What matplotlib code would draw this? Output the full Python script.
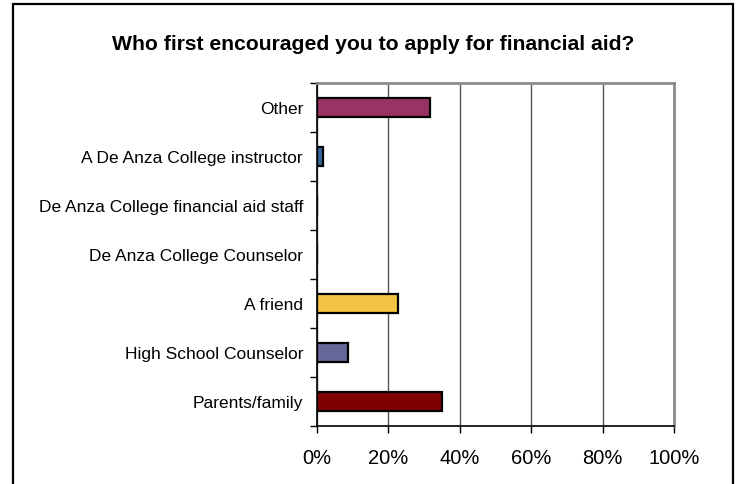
import numpy as np
import matplotlib
matplotlib.use("Agg")
import matplotlib.pyplot as plt
from matplotlib.patches import Rectangle

plt.rcParams['font.family'] = ['Liberation Sans', 'DejaVu Sans']

# Survey answers, listed bottom to top as they appear on the chart
categories = [
    "Parents/family",
    "High School Counselor",
    "A friend",
    "De Anza College Counselor",
    "De Anza College financial aid staff",
    "A De Anza College instructor",
    "Other",
]
percent = [35.1, 8.8, 22.7, 0.0, 0.0, 1.8, 31.6]
bar_colors = ["#800000", "#666699", "#F5C343", "#336699", "#336699", "#336699", "#993366"]
x_ticks = [0, 20, 40, 60, 80, 100]
x_tick_labels = ["0%", "20%", "40%", "60%", "80%", "100%"]
title = "Who first encouraged you to apply for financial aid?"

W, H = 737, 485
fig = plt.figure(figsize=(W / 100, H / 100), dpi=100)
fig.patch.set_facecolor("white")

# outer frame around the chart (bottom edge runs off the image)
fig.patches.append(Rectangle((13 / W, -0.05), (733 - 13) / W, 1.05 - 5 / H,
                             transform=fig.transFigure, fill=False,
                             edgecolor="black", linewidth=1.6))

ax = fig.add_axes([317 / W, 1 - 427 / H, (674 - 317) / W, (427 - 84) / H])
pos = np.arange(len(categories))
ax.barh(pos, percent, height=0.4, color=bar_colors, edgecolor="black",
        linewidth=1.6, zorder=3)

ax.set_xlim(0, 100)
ax.set_ylim(-0.5, len(categories) - 0.5)

ax.set_xticks(x_ticks)
ax.set_xticklabels(x_tick_labels, fontsize=14.5)
ax.tick_params(axis="x", length=5, width=1, pad=11, color="black")
ax.xaxis.grid(True, color="#555555", linewidth=1, zorder=0)

# tick marks between categories, labels centred on the bars
ax.set_yticks(np.arange(-0.5, len(categories), 1.0))
ax.set_yticklabels([])
ax.set_yticks(pos, minor=True)
ax.set_yticklabels(categories, minor=True, fontsize=12.5)
ax.tick_params(axis="y", which="major", length=5, width=1, color="black")
ax.tick_params(axis="y", which="minor", length=0, pad=10)

for side in ("left", "bottom"):
    ax.spines[side].set_color("black")
    ax.spines[side].set_linewidth(1.2)
for side in ("top", "right"):
    ax.spines[side].set_color("#8c8c8c")
    ax.spines[side].set_linewidth(2)

fig.text(373.5 / W, 1 - 44 / H, title, ha="center", va="center",
         fontsize=15.2, fontweight="bold")

fig.savefig("out.png", dpi=100)
